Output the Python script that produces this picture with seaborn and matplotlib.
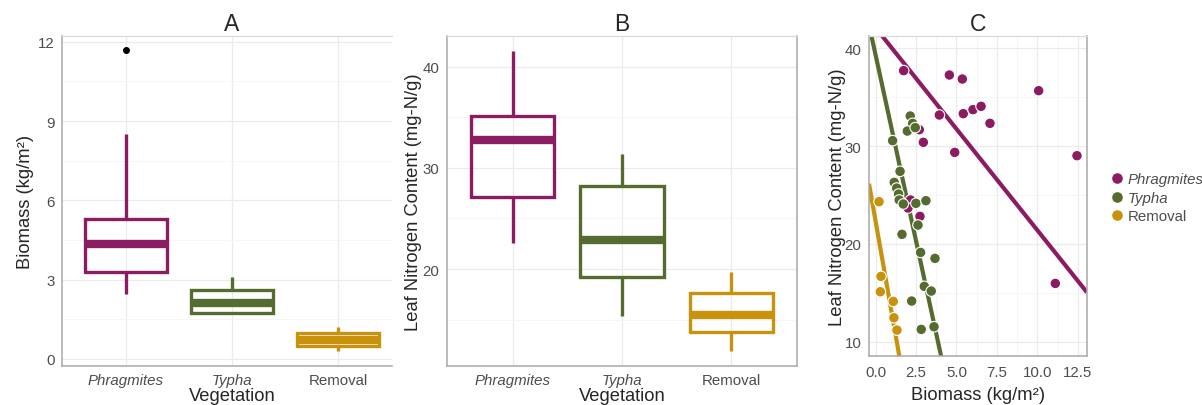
import matplotlib
matplotlib.use("Agg")
import matplotlib.pyplot as plt
from matplotlib.lines import Line2D
from matplotlib.ticker import FixedLocator
import seaborn as sns
import pandas as pd

# ---------------- data ----------------
categories = ["Phragmites", "Typha", "Removal"]
italic_names = ["Phragmites", "Typha"]
colors = ["#8B1C62", "#556B2F", "#C8920C"]

# Panel A: biomass box statistics (kg/m2)
bio_whislo = [2.46, 1.74, 0.31]
bio_q1 = [3.29, 1.74, 0.50]
bio_med = [4.35, 2.11, 0.70]
bio_q3 = [5.31, 2.61, 0.99]
bio_whishi = [8.51, 3.11, 1.20]
bio_fliers = [[11.69], [], []]

# Panel B: leaf nitrogen box statistics (mg-N/g)
n_whislo = [22.6, 15.4, 11.95]
n_q1 = [27.12, 19.24, 13.76]
n_med = [32.77, 22.9, 15.5]
n_q3 = [35.1, 28.16, 17.6]
n_whishi = [41.58, 31.37, 19.67]
n_fliers = [[], [], []]

# Panel C: scatter
phrag_x = [1.73, 4.56, 5.36, 10.08, 3.94, 5.42, 6.02, 6.52, 7.07, 2.70, 2.95,
           4.89, 12.45, 2.16, 2.00, 2.74, 11.11]
phrag_y = [37.72, 37.27, 36.86, 35.67, 33.18, 33.32, 33.73, 34.07, 32.33, 31.68,
           30.39, 29.36, 29.02, 24.49, 23.67, 22.82, 15.96]
typha_x = [2.14, 2.29, 1.96, 2.45, 1.05, 1.51, 1.15, 1.30, 1.42, 1.46, 1.71,
           2.49, 3.11, 2.62, 1.63, 2.78, 3.67, 3.01, 3.44, 2.23, 2.82, 3.61]
typha_y = [33.08, 32.33, 31.54, 31.89, 30.56, 27.42, 26.29, 25.71, 25.10, 24.49,
           24.08, 24.15, 24.42, 21.93, 20.98, 19.13, 18.52, 15.66, 15.18, 14.16,
           11.26, 11.53]
removal_x = [0.21, 0.33, 0.29, 1.09, 1.13, 1.32]
removal_y = [24.32, 16.68, 15.11, 14.12, 12.45, 11.19]

# fitted lines (intercept, slope) as drawn in the figure
line_intercepts = [42.1, 39.3, 22.3]
line_slopes = [-2.07, -7.6, -9.4]

# ---------------- style ----------------
sns.set_style("white")
plt.rcParams["font.family"] = ["Liberation Sans", "DejaVu Sans"]

W, H = 1202, 406
fig = plt.figure(figsize=(W / 100, H / 100), dpi=100)


def add_ax(left, right, top, bottom):
    return fig.add_axes([left / W, (H - bottom) / H, (right - left) / W, (bottom - top) / H])


axA = add_ax(62, 392, 37, 367)
axB = add_ax(447, 797, 37, 367)
axC = add_ax(869, 1087, 37, 357)

TICK_FS = 10.8
LAB_FS = 13.2
TITLE_FS = 16.5
TICK_COL = "#4D4D4D"
SPINE_COL = "#A8A8A8"
GRID_MAJ = "#EBEBEB"
GRID_MIN = "#F5F5F5"


def style_axes(ax, right_spine=True):
    for s in ["left", "bottom"]:
        ax.spines[s].set_color(SPINE_COL)
        ax.spines[s].set_linewidth(1.1)
    ax.spines["top"].set_color("#DADADA")
    ax.spines["top"].set_linewidth(0.9)
    ax.spines["right"].set_color(SPINE_COL)
    ax.spines["right"].set_linewidth(1.1)
    ax.spines["right"].set_visible(right_spine)
    ax.tick_params(axis="both", which="major", length=3.4, width=0.9, color="#8C8C8C",
                   labelsize=TICK_FS, labelcolor=TICK_COL, pad=2)
    ax.tick_params(axis="both", which="minor", length=0)
    ax.grid(True, which="major", color=GRID_MAJ, linewidth=0.9, zorder=0)
    ax.grid(True, which="minor", color=GRID_MIN, linewidth=0.6, zorder=0)
    ax.set_axisbelow(True)


def draw_boxes(ax, whislo, q1, med, q3, whishi, fliers, width):
    for i, cat in enumerate(categories):
        st = [dict(whislo=whislo[i], q1=q1[i], med=med[i], q3=q3[i],
                   whishi=whishi[i], fliers=fliers[i], label=cat)]
        c = colors[i]
        ax.bxp(st, positions=[i], widths=width, showcaps=False, patch_artist=False,
               boxprops=dict(color=c, linewidth=2.4, solid_joinstyle="miter"),
               whiskerprops=dict(color=c, linewidth=2.4, solid_capstyle="butt"),
               medianprops=dict(color=c, linewidth=6.0, solid_capstyle="butt"),
               flierprops=dict(marker="o", markerfacecolor="black",
                               markeredgecolor="black", markersize=4),
               manage_ticks=False, zorder=3)
    ax.set_xticks(range(len(categories)))
    ax.set_xticklabels(categories)
    for lbl in ax.get_xticklabels():
        if lbl.get_text() in italic_names:
            lbl.set_style("italic")


# ---------------- Panel A ----------------
style_axes(axA, right_spine=False)
draw_boxes(axA, bio_whislo, bio_q1, bio_med, bio_q3, bio_whishi, bio_fliers, 0.77)
axA.set_xlim(-0.6, 2.506)
axA.set_ylim(-0.27, 12.22)
axA.yaxis.set_major_locator(FixedLocator([0, 3, 6, 9, 12]))
axA.yaxis.set_minor_locator(FixedLocator([1.5, 4.5, 7.5, 10.5]))
axA.set_title("A", fontsize=TITLE_FS, x=0.515, pad=4)
axA.set_xlabel("Vegetation", fontsize=LAB_FS)
axA.set_ylabel("Biomass (kg/m²)", fontsize=LAB_FS)

# ---------------- Panel B ----------------
style_axes(axB)
draw_boxes(axB, n_whislo, n_q1, n_med, n_q3, n_whishi, n_fliers, 0.76)
axB.set_xlim(-0.6, 2.6)
axB.set_ylim(10.42, 43.03)
axB.yaxis.set_major_locator(FixedLocator([20, 30, 40]))
axB.yaxis.set_minor_locator(FixedLocator([15, 25, 35]))
axB.set_title("B", fontsize=TITLE_FS, pad=4)
axB.set_xlabel("Vegetation", fontsize=LAB_FS)
axB.set_ylabel("Leaf Nitrogen Content (mg-N/g)", fontsize=LAB_FS)

# ---------------- Panel C ----------------
style_axes(axC)
df = pd.DataFrame({
    "Biomass": phrag_x + typha_x + removal_x,
    "N": phrag_y + typha_y + removal_y,
    "Vegetation": [categories[0]] * len(phrag_x) + [categories[1]] * len(typha_x)
                  + [categories[2]] * len(removal_x),
})
for i in range(len(categories)):
    axC.axline((0, line_intercepts[i]), slope=line_slopes[i], color=colors[i],
               linewidth=3.0, zorder=2, solid_capstyle="butt")
sns.scatterplot(data=df, x="Biomass", y="N", hue="Vegetation", hue_order=categories,
                palette=colors, s=58, edgecolor="white", linewidth=0.8,
                legend=False, ax=axC, zorder=4)
axC.set_xlim(-0.41, 13.07)
axC.set_ylim(8.54, 41.26)
axC.xaxis.set_major_locator(FixedLocator([0, 2.5, 5, 7.5, 10, 12.5]))
axC.xaxis.set_minor_locator(FixedLocator([1.25, 3.75, 6.25, 8.75, 11.25]))
axC.yaxis.set_major_locator(FixedLocator([10, 20, 30, 40]))
axC.yaxis.set_minor_locator(FixedLocator([15, 25, 35]))
axC.set_xticklabels(["0.0", "2.5", "5.0", "7.5", "10.0", "12.5"])
axC.tick_params(axis="x", pad=3)
axC.set_title("C", fontsize=TITLE_FS, pad=4)
axC.set_xlabel("Biomass (kg/m²)", fontsize=LAB_FS)
axC.set_ylabel("Leaf Nitrogen Content (mg-N/g)", fontsize=LAB_FS)

# label placement
for ax, ylab_x in [(axA, -0.112), (axB, -0.0943), (axC, -0.1445)]:
    ax.yaxis.set_label_coords(ylab_x, 0.5)
    ax.yaxis.label.set_verticalalignment("center")

axA.xaxis.set_label_coords(170 / 330, (367 - 401.5) / 330)
axA.xaxis.label.set_verticalalignment("baseline")
axB.xaxis.set_label_coords(0.5, (367 - 401.5) / 330)
axB.xaxis.label.set_verticalalignment("baseline")
axC.xaxis.set_label_coords(0.5, (357 - 400.5) / 320)
axC.xaxis.label.set_verticalalignment("baseline")

# legend
handles = [Line2D([], [], marker="o", linestyle="", markersize=6.6,
                  markerfacecolor=c, markeredgecolor=c) for c in colors]
leg = fig.legend(handles, categories, loc="center left",
                 bbox_to_anchor=(1111 / W, (H - 199) / H), frameon=False,
                 fontsize=TICK_FS, handlelength=0.8, handletextpad=0.3,
                 labelspacing=0.3, borderpad=0, borderaxespad=0)
for t in leg.get_texts():
    t.set_color(TICK_COL)
    if t.get_text() in italic_names:
        t.set_style("italic")

fig.savefig("out.png", dpi=100)
